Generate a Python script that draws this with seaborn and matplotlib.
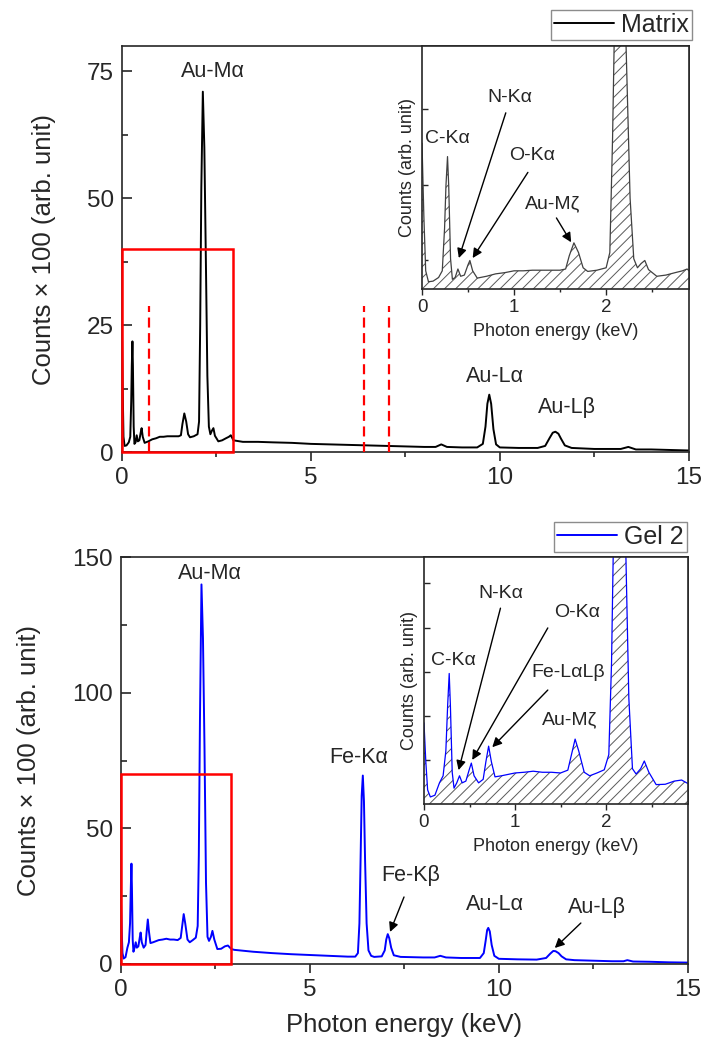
import matplotlib
matplotlib.use("Agg")
import matplotlib.pyplot as plt
from matplotlib.patches import Rectangle
from matplotlib.ticker import MultipleLocator, FixedLocator
import seaborn as sns
import pandas as pd

# ---------------- data ----------------
matrix_energy = [0.00, 0.02, 0.04, 0.07, 0.12, 0.18, 0.22, 0.245, 0.26, 0.277, 0.29, 0.31, 0.33,
                 0.36, 0.39, 0.42, 0.46, 0.50, 0.52, 0.55, 0.60, 0.70, 0.80, 0.90, 1.00, 1.10,
                 1.20, 1.30, 1.40, 1.50, 1.56, 1.60, 1.65, 1.70, 1.75, 1.80, 1.90, 2.00, 2.04,
                 2.07, 2.10, 2.14, 2.18, 2.22, 2.26, 2.30, 2.34, 2.38, 2.42, 2.46, 2.55, 2.65,
                 2.75, 2.83, 2.88, 2.95, 3.2, 3.6, 4.0, 4.5, 5.0, 5.5, 6.0, 6.5, 7.0, 7.5, 8.0,
                 8.3, 8.45, 8.6, 9.0, 9.4, 9.55, 9.62, 9.67, 9.72, 9.77, 9.83, 9.90, 10.0, 10.5,
                 11.0, 11.2, 11.32, 11.40, 11.47, 11.55, 11.62, 11.72, 11.9, 12.5, 13.2, 13.4,
                 13.6, 14.0, 15.0]
matrix_counts = [24.0, 12.0, 3.0, 1.2, 1.3, 1.9, 3.0, 10.0, 17.0, 21.8, 17.0, 5.0, 1.6,
                 1.9, 3.3, 2.1, 2.3, 4.0, 4.7, 3.0, 1.8, 2.1, 2.5, 2.7, 3.0, 3.0,
                 3.1, 3.1, 3.1, 3.1, 3.3, 5.5, 7.6, 6.0, 3.5, 2.9, 3.1, 3.5, 6.0,
                 25.0, 52.0, 71.0, 60.0, 38.0, 15.0, 5.0, 3.5, 4.2, 4.7, 3.2, 2.1, 2.3,
                 2.7, 3.0, 3.3, 2.3, 2.0, 2.0, 1.9, 1.8, 1.6, 1.5, 1.4, 1.3, 1.2, 1.1, 1.0,
                 1.0, 1.5, 1.0, 0.9, 0.9, 1.6, 5.0, 9.5, 11.3, 9.5, 4.5, 1.5, 0.9, 0.8,
                 0.8, 1.2, 2.8, 3.8, 4.0, 3.6, 2.6, 1.3, 0.8, 0.6, 0.6, 1.0,
                 0.5, 0.5, 0.3]

gel_energy = [0.00, 0.02, 0.04, 0.07, 0.12, 0.17, 0.21, 0.24, 0.26, 0.277, 0.29, 0.31, 0.33,
              0.36, 0.39, 0.42, 0.46, 0.50, 0.52, 0.55, 0.60, 0.65, 0.68, 0.71, 0.74, 0.78,
              0.85, 1.00, 1.10, 1.20, 1.30, 1.40, 1.50, 1.58, 1.62, 1.66, 1.70, 1.76, 1.82,
              1.90, 1.98, 2.03, 2.06, 2.09, 2.13, 2.17, 2.21, 2.25, 2.29, 2.33, 2.38, 2.42,
              2.47, 2.55, 2.65, 2.75, 2.83, 2.92, 3.0, 3.5, 4.0, 4.5, 5.0, 5.5, 6.0, 6.2,
              6.27, 6.31, 6.34, 6.37, 6.40, 6.43, 6.46, 6.50, 6.55, 6.62, 6.7, 6.9, 6.98,
              7.02, 7.06, 7.10, 7.15, 7.22, 7.4, 8.0, 8.3, 8.45, 8.6, 9.0, 9.5, 9.6, 9.65,
              9.69, 9.72, 9.76, 9.81, 9.88, 10.0, 10.5, 11.0, 11.25, 11.36, 11.44, 11.50,
              11.58, 11.66, 11.78, 12.0, 12.5, 13.0, 13.3, 13.4, 13.55, 14.0, 14.5, 15.0]
gel_counts = [23.0, 12.0, 4.0, 2.0, 2.5, 6.0, 8.0, 15.0, 28.0, 37.0, 28.0, 9.0, 4.5,
              6.0, 8.0, 6.0, 6.5, 10.0, 11.6, 8.0, 6.0, 7.0, 12.0, 16.4, 12.0, 7.7,
              8.0, 8.8, 9.0, 9.3, 9.0, 9.0, 8.8, 9.6, 14.0, 18.4, 15.0, 9.0, 8.0,
              8.8, 9.7, 14.0, 40.0, 90.0, 140.0, 120.0, 80.0, 30.0, 10.0, 8.5, 10.0, 12.2,
              9.0, 5.5, 5.6, 6.5, 6.8, 5.5, 5.2, 4.5, 4.0, 3.6, 3.3, 3.0, 2.7, 2.7,
              4.0, 15.0, 38.0, 62.0, 69.5, 60.0, 38.0, 15.0, 5.0, 3.0, 2.6, 2.8, 5.0,
              9.0, 11.0, 9.5, 6.0, 3.2, 2.6, 2.4, 2.4, 3.0, 2.4, 2.2, 2.2, 4.0, 8.5,
              12.5, 13.3, 12.0, 7.0, 3.0, 1.9, 1.7, 1.6, 2.2, 3.8, 4.8, 4.7,
              4.0, 2.8, 1.7, 1.4, 1.2, 1.0, 1.0, 1.4, 0.9, 0.8, 0.6, 0.5]

fe_line_energies = [0.71, 6.40, 7.06]       # red dashed markers (top panel)
fe_line_top = 28.7
zoom_box_top = (2.93, 40)                    # (energy, counts) of red zoom box, top
zoom_box_bottom = (2.90, 70)                 # bottom

top_labels = [("Au-M\u03b1", 2.41, 75.0), ("Au-L\u03b1", 9.87, 14.8), ("Au-L\u03b2", 11.77, 8.7)]
bottom_labels = [("Au-M\u03b1", 2.35, 144.0), ("Fe-K\u03b1", 6.30, 76.0), ("Au-L\u03b1", 9.89, 21.8)]
bottom_arrows = [("Fe-K\u03b2", 7.67, 32.8, 7.49, 24.7, 7.12, 11.8),
                 ("Au-L\u03b2", 12.6, 20.7, 12.17, 15.1, 11.48, 5.9)]

top_inset_labels = [("C-K\u03b1", 0.28, 24.8)]
top_inset_arrows = [("N-K\u03b1", 0.95, 31.6, 0.91, 29.0, 0.40, 5.1),
                    ("O-K\u03b1", 1.20, 22.0, 1.15, 19.2, 0.55, 5.1),
                    ("Au-M\u03b6", 1.42, 14.1, 1.46, 11.7, 1.62, 7.7)]
bottom_inset_labels = [("C-K\u03b1", 0.32, 40.8), ("Au-M\u03b6", 1.60, 23.8)]
bottom_inset_arrows = [("N-K\u03b1", 0.84, 59.8, 0.84, 55.5, 0.38, 9.6),
                       ("O-K\u03b1", 1.68, 54.4, 1.36, 49.9, 0.53, 12.5),
                       ("Fe-L\u03b1L\u03b2", 1.58, 37.4, 1.36, 32.3, 0.75, 16.1)]

matrix_df = pd.DataFrame({"energy": matrix_energy, "counts": matrix_counts})
gel_df = pd.DataFrame({"energy": gel_energy, "counts": gel_counts})

# ---------------- style ----------------
sns.set_style("ticks")
plt.rcParams["font.family"] = ["Liberation Sans", "DejaVu Sans"]
plt.rcParams["hatch.linewidth"] = 0.7
plt.rcParams["axes.linewidth"] = 1.2

fig = plt.figure(figsize=(7.05, 10.48), dpi=100)

TICK_FS = 17.5
LABEL_FS = 18.5
ANN_FS = 15.5
INS_ANN_FS = 14
INS_TICK_FS = 13.5
INS_LABEL_FS = 13

def style_main(ax, ymax, ymajor):
    ax.set_xlim(0, 15)
    ax.set_ylim(0, ymax)
    ax.xaxis.set_major_locator(MultipleLocator(5))
    ax.xaxis.set_minor_locator(MultipleLocator(2.5))
    ax.yaxis.set_major_locator(MultipleLocator(ymajor))
    ax.yaxis.set_minor_locator(MultipleLocator(ymajor / 2))
    ax.tick_params(axis="x", which="major", direction="out", length=6.5, width=1.2, labelsize=TICK_FS, pad=4)
    ax.tick_params(axis="x", which="minor", direction="out", length=3.5, width=1.2)
    ax.tick_params(axis="y", which="major", direction="in", length=7, width=1.2, labelsize=TICK_FS, pad=6)
    ax.tick_params(axis="y", which="minor", direction="in", length=4, width=1.2)
    ax.set_ylabel("Counts \u00d7 100 (arb. unit)", fontsize=LABEL_FS, labelpad=22)
    for s in ax.spines.values():
        s.set_visible(True)
        s.set_linewidth(1.2)

def style_inset(ax, ymax, yticks):
    ax.set_xlim(0, 2.9)
    ax.set_ylim(0, ymax)
    ax.xaxis.set_major_locator(MultipleLocator(1))
    ax.xaxis.set_minor_locator(MultipleLocator(0.5))
    ax.yaxis.set_major_locator(FixedLocator(yticks))
    ax.set_yticklabels([])
    ax.tick_params(axis="x", which="major", direction="out", length=4, width=1, labelsize=INS_TICK_FS, pad=3)
    ax.tick_params(axis="x", which="minor", direction="out", length=2.5, width=1)
    ax.tick_params(axis="y", which="major", direction="in", length=4, width=1)
    ax.set_xlabel("Photon energy (keV)", fontsize=INS_LABEL_FS, labelpad=5)
    ax.set_ylabel("Counts (arb. unit)", fontsize=INS_LABEL_FS, labelpad=1)
    for s in ax.spines.values():
        s.set_visible(True)
        s.set_linewidth(1.2)

arrow_kw = dict(arrowstyle="-|>", color="black", lw=1.0, mutation_scale=14, shrinkA=0, shrinkB=0)
legend_kw = dict(loc="upper right", bbox_transform=fig.transFigure, fontsize=18, frameon=True,
                 fancybox=False, edgecolor="0.55", framealpha=1, handlelength=2.4,
                 handletextpad=0.3, borderpad=0.12, borderaxespad=0)

# ---------------- top panel ----------------
ax1 = fig.add_axes([0.173, 0.5687, 0.804, 0.3874])
sns.lineplot(data=matrix_df, x="energy", y="counts", ax=ax1, color="black", lw=1.4,
             estimator=None, label="Matrix")
style_main(ax1, 80, 25)
ax1.set_xlabel("")
ax1.add_patch(Rectangle((0, 0), zoom_box_top[0], zoom_box_top[1], fill=False, edgecolor="red",
                        lw=1.8, zorder=4, clip_on=False))
ax1.vlines(fe_line_energies, 0, fe_line_top, colors="red", lw=1.6, linestyles=(0, (4.5, 2.5)), zorder=4)
for t, x, y in top_labels:
    ax1.text(x, y, t, fontsize=ANN_FS, ha="center", va="center")
ax1.legend(bbox_to_anchor=(0.982, 0.9905), **legend_kw)

ins1 = fig.add_axes([0.5986, 0.7242, 0.3787, 0.2319])
ins1.fill_between(matrix_df["energy"], 0, matrix_df["counts"], facecolor="white",
                  edgecolor="0.35", hatch="///", lw=0)
sns.lineplot(data=matrix_df, x="energy", y="counts", ax=ins1, color="0.25", lw=0.9,
             estimator=None, legend=False)
style_inset(ins1, 40, [4.8, 17.2, 29.6])
for t, x, y in top_inset_labels:
    ins1.text(x, y, t, fontsize=INS_ANN_FS, ha="center", va="center")
for t, tx, ty, x0, y0, x1, y1 in top_inset_arrows:
    ins1.text(tx, ty, t, fontsize=INS_ANN_FS, ha="center", va="center")
    ins1.annotate("", xy=(x1, y1), xytext=(x0, y0), arrowprops=arrow_kw)

# ---------------- bottom panel ----------------
ax2 = fig.add_axes([0.1716, 0.0802, 0.804, 0.388])
sns.lineplot(data=gel_df, x="energy", y="counts", ax=ax2, color="#0000ff", lw=1.4,
             estimator=None, label="Gel 2")
style_main(ax2, 150, 50)
ax2.set_xlabel("Photon energy (keV)", fontsize=LABEL_FS, labelpad=9)
ax2.add_patch(Rectangle((0, 0), zoom_box_bottom[0], zoom_box_bottom[1], fill=False, edgecolor="red",
                        lw=1.8, zorder=4, clip_on=False))
for t, x, y in bottom_labels:
    ax2.text(x, y, t, fontsize=ANN_FS, ha="center", va="center")
for t, tx, ty, x0, y0, x1, y1 in bottom_arrows:
    ax2.text(tx, ty, t, fontsize=ANN_FS, ha="center", va="center")
    ax2.annotate("", xy=(x1, y1), xytext=(x0, y0), arrowprops=arrow_kw)
ax2.legend(bbox_to_anchor=(0.9745, 0.5019), **legend_kw)

ins2 = fig.add_axes([0.6014, 0.2328, 0.3745, 0.2357])
ins2.fill_between(gel_df["energy"], 0, gel_df["counts"], facecolor="white",
                  edgecolor="0.35", hatch="///", lw=0)
sns.lineplot(data=gel_df, x="energy", y="counts", ax=ins2, color="#0000ff", lw=0.9,
             estimator=None, legend=False)
style_inset(ins2, 70, [12.5, 25, 37.5, 50, 62.5])
for t, x, y in bottom_inset_labels:
    ins2.text(x, y, t, fontsize=INS_ANN_FS, ha="center", va="center")
for t, tx, ty, x0, y0, x1, y1 in bottom_inset_arrows:
    ins2.text(tx, ty, t, fontsize=INS_ANN_FS, ha="center", va="center")
    ins2.annotate("", xy=(x1, y1), xytext=(x0, y0), arrowprops=arrow_kw)

fig.savefig("out.png", dpi=100)
